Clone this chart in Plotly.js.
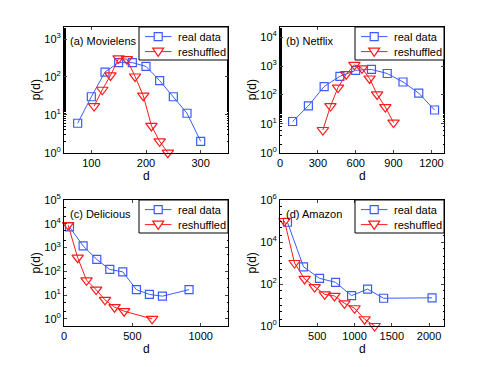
<!DOCTYPE html>
<html>
<head>
<meta charset="utf-8">
<script src="https://cdn.plot.ly/plotly-3.0.1.min.js"></script>
<style>
body{margin:0;padding:0;background:#fff}
#plot{width:491px;height:367px}
</style>
</head>
<body>
<div id="plot"></div>
<script>
// (a) Movielens
var dA_real=[75,100,125,150,175,200,225,250,275,300];
var pA_real=[6,30,135,240,240,190,80,30,11,2];
var dA_shuf=[105,120,135,150,165,180,195,210,225,240];
var pA_shuf=[17,46,110,310,295,103,32,5.1,2.0,1.0];

// (b) Netflix
var dB_real=[100,225,350,475,600,725,850,975,1100,1225];
var pB_real=[12,42,195,440,710,760,550,280,115,30];
var dB_shuf=[340,400,460,525,590,650,710,770,835,900];
var pB_shuf=[6.1,41,180,520,1100,830,370,104,38,11];

// (c) Delicious
var dC_real=[40,140,240,335,430,530,625,720,915];
var pC_real=[7400,1170,316,120,95,17,10.7,9,17];
var dC_shuf=[30,100,165,235,300,370,440,645];
var pC_shuf=[8900,375,42,17,6.3,3.1,2.1,1.0];

// (d) Amazon
var dD_real=[100,315,530,745,960,1175,1390,2040];
var pD_real=[87000,660,186,120,28,57,21,22];
var dD_shuf=[60,195,330,465,600,730,865,1000,1135,1270];
var pD_shuf=[100000,1000,175,71,32,27,12,7,2.1,1];

var panel_names=['(a) Movielens','(b) Netflix','(c) Delicious','(d) Amazon'];
var series_names=['real data','reshuffled'];
var x_title='d';
var y_title='p(d)';

var BLUE='#3a5cff';
var RED='#ff1a1a';
var FONT='"Liberation Sans", Arial, Helvetica, sans-serif';
var W=491, H=367;

//pomocnicza - etykiety 10^n
function powLabels(exps){
    return exps.map(function(e){return '10<sup>'+e+'</sup>';});
}

//piksele -> wspolrzedne papieru
function px(x){return x/W;}
function py(y){return 1-y/H;}

//legenda w stylu matlaba (mniejsza niz legenda plotly), prawy gorny rog osi
function addLegend(layout,right,top){
    var L=right-89;
    var rows=[top+9.6,top+24.6];
    var cols=[BLUE,RED];
    layout.shapes.push({type:'rect',xref:'paper',yref:'paper',layer:'above',
        x0:px(L),x1:px(right),y0:py(top),y1:py(top+33),
        fillcolor:'#fff',line:{color:'#000',width:1}});
    for (var k=0;k<2;k++)
    {
        var cy=rows[k], cx=L+19.2;
        layout.shapes.push({type:'line',xref:'paper',yref:'paper',layer:'above',
            x0:px(L+6),x1:px(L+32.5),y0:py(cy),y1:py(cy),line:{color:cols[k],width:1}});
        if (k==0)
            layout.shapes.push({type:'rect',xref:'paper',yref:'paper',layer:'above',
                x0:px(cx-4),x1:px(cx+4),y0:py(cy-4),y1:py(cy+4),
                fillcolor:'#fff',line:{color:cols[k],width:1.2}});
        else
            layout.shapes.push({type:'path',xref:'paper',yref:'paper',layer:'above',
                path:'M'+px(cx-5.5)+','+py(cy-3.5)+' L'+px(cx+5.5)+','+py(cy-3.5)+' L'+px(cx)+','+py(cy+4.8)+' Z',
                fillcolor:'#fff',line:{color:cols[k],width:1.2}});
        layout.annotations.push({text:series_names[k],xref:'paper',yref:'paper',
            x:px(L+37),y:py(cy),xanchor:'left',yanchor:'middle',showarrow:false,font:{size:11}});
    }
}

var panels=[
    {real:[dA_real,pA_real],shuf:[dA_shuf,pA_shuf],xr:[50,350],yr:[0,3.32],xt:[100,200,300],ye:[0,1,2,3]},
    {real:[dB_real,pB_real],shuf:[dB_shuf,pB_shuf],xr:[0,1300],yr:[0,4.35],xt:[0,300,600,900,1200],ye:[0,1,2,3,4]},
    {real:[dC_real,pC_real],shuf:[dC_shuf,pC_shuf],xr:[0,1200],yr:[-0.3,5],xt:[0,500,1000],ye:[0,1,2,3,4,5]},
    {real:[dD_real,pD_real],shuf:[dD_shuf,pD_shuf],xr:[0,2200],yr:[0,6],xt:[500,1000,1500,2000],ye:[0,2,4,6]}
];

// granice osi w pikselach
var xpx=[[64,228],[280,444]];
var ypx=[[27,152.7],[200,326]];

var data=[];
var layout={
    width:W,height:H,
    margin:{l:0,r:0,t:0,b:0},
    paper_bgcolor:'#fff',plot_bgcolor:'#fff',
    font:{family:FONT,size:11,color:'#000'},
    showlegend:false,
    shapes:[],
    annotations:[]
};

for (var i=0;i<4;i++)
{
    var p=panels[i];
    var n=(i==0)?'':String(i+1);
    var col=i%2, row=Math.floor(i/2);

    data.push({x:p.real[0],y:p.real[1],name:series_names[0],xaxis:'x'+n,yaxis:'y'+n,
        mode:'lines+markers',cliponaxis:false,line:{color:BLUE,width:1},
        marker:{symbol:'square-open',size:8,color:BLUE,line:{width:1.2,color:BLUE}}});
    data.push({x:p.shuf[0],y:p.shuf[1],name:series_names[1],xaxis:'x'+n,yaxis:'y'+n,
        mode:'lines+markers',cliponaxis:false,line:{color:RED,width:1},
        marker:{symbol:'triangle-down-open',size:10,color:RED,line:{width:1.2,color:RED}}});

    layout['xaxis'+n]={domain:[px(xpx[col][0]),px(xpx[col][1])],anchor:'y'+n,range:p.xr,tickvals:p.xt,
        showline:true,mirror:'ticks',linecolor:'#000',linewidth:1,ticks:'inside',ticklen:3,
        showgrid:false,zeroline:false,tickfont:{size:11},automargin:false};
    layout['yaxis'+n]={domain:[py(ypx[row][1]),py(ypx[row][0])],anchor:'x'+n,type:'log',range:p.yr,
        tickvals:p.ye.map(function(e){return Math.pow(10,e);}),ticktext:powLabels(p.ye),
        showline:true,mirror:'ticks',linecolor:'#000',linewidth:1,ticks:'inside',ticklen:3,
        minor:{ticks:'inside',ticklen:1.5,tickcolor:'#000'},
        showgrid:false,zeroline:false,tickfont:{size:11},automargin:false};

    addLegend(layout,xpx[col][1],ypx[row][0]);

    //podpis panelu
    layout.annotations.push({text:panel_names[i],xref:'paper',yref:'paper',
        x:px(xpx[col][0]+4),y:py(ypx[row][0]+13.5),xanchor:'left',yanchor:'middle',
        showarrow:false,font:{size:11}});
    //tytuly osi
    layout.annotations.push({text:x_title,xref:'paper',yref:'paper',
        x:px((xpx[col][0]+xpx[col][1])/2),y:py(ypx[row][1]+23),xanchor:'center',yanchor:'middle',
        showarrow:false,font:{size:12}});
    layout.annotations.push({text:y_title,xref:'paper',yref:'paper',textangle:-90,
        x:px(xpx[col][0]-28.5),y:py((ypx[row][0]+ypx[row][1])/2),xanchor:'center',yanchor:'middle',
        showarrow:false,font:{size:12}});
}

Plotly.newPlot('plot',data,layout,{displayModeBar:false});
</script>
</body>
</html>
